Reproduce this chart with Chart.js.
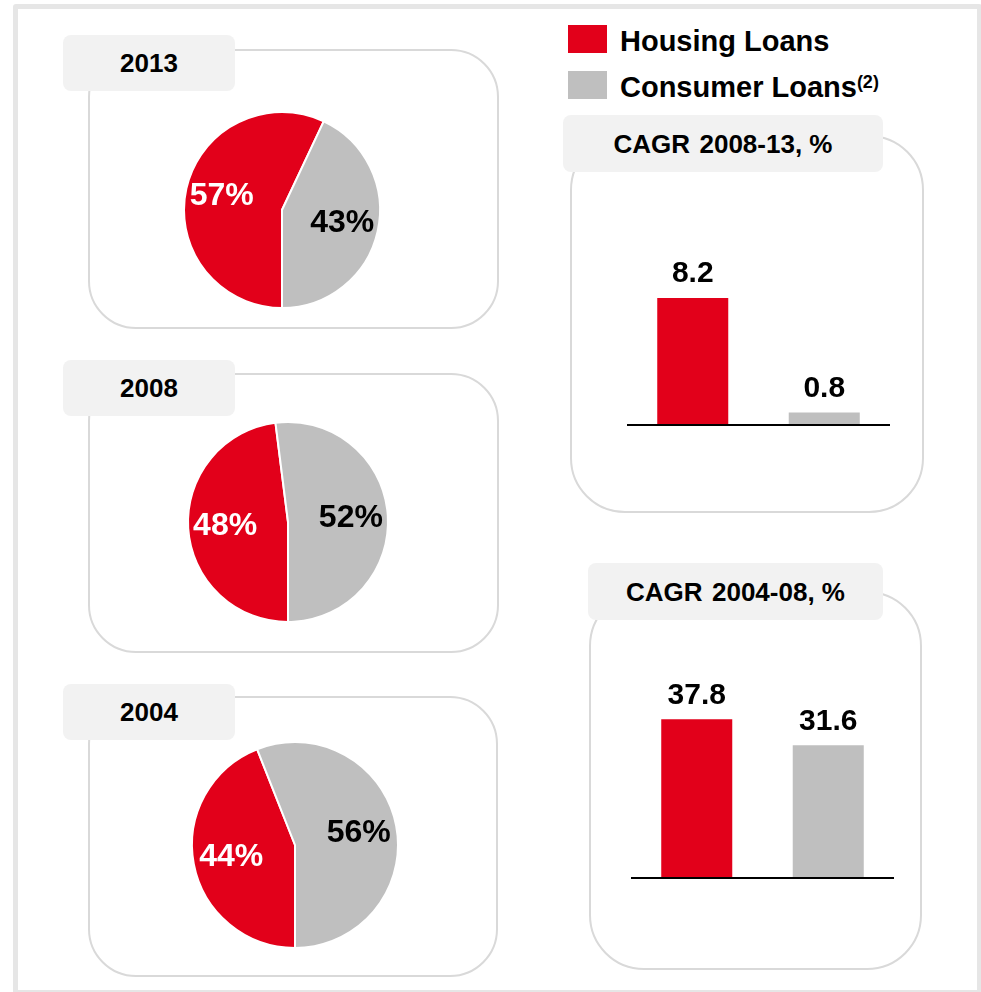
<!DOCTYPE html>
<html>
<head>
<meta charset="utf-8">
<script src="https://cdn.jsdelivr.net/npm/chart.js@4.4.1/dist/chart.umd.min.js"></script>
<style>
  body {
    margin: 0; width: 981px; height: 992px; position: relative; overflow: hidden;
    background: #fff; color: #000;
    font-family: "Liberation Sans", Arial, sans-serif; font-weight: bold;
  }
  .frame {
    position: absolute; left: 13px; top: 4px; width: 969px; height: 991px;
    border: 5px solid #e6e6e6; border-radius: 3px; box-sizing: border-box;
  }
  .box { position: absolute; border: 2px solid #d9d9d9; box-sizing: border-box; }
  .tab {
    position: absolute; background: #f2f2f2; border-radius: 8px;
    display: flex; align-items: center; justify-content: center;
    font-size: 26px; line-height: 1; white-space: pre;
  }
  .swatch { position: absolute; width: 39px; height: 28px; }
  .legend-text { position: absolute; font-size: 29px; line-height: 1; white-space: nowrap; }
  .legend-text sup { font-size: 18px; vertical-align: 9px; line-height: 0; }
  canvas { position: absolute; }
</style>
</head>
<body>
<div class="frame"></div>
<script>
// loan mix by year (% of retail loans)
const pieYears = ['2013', '2008', '2004'];
const housingShare = [57, 48, 44];
const consumerShare = [43, 52, 56];

// growth rates
const seriesNames = ['Housing Loans', 'Consumer Loans'];
const cagrTitles = ['CAGR \u200A2008-13, %', 'CAGR \u200A2004-08, %'];
const cagr2008to13 = [8.2, 0.8];
const cagr2004to08 = [37.8, 31.6];

const colors = ['#E2001A', '#BFBFBF'];
const FONT = '"Liberation Sans", Arial, sans-serif';

// panel geometry: [x1, y1, x2, y2]
const pieLayout = [
  { box: [89, 50, 498, 328], tab: [63, 35, 235, 91], cx: 282, cy: 210, r: 98 },
  { box: [89, 374, 498, 652], tab: [63, 360, 235, 416], cx: 288, cy: 522, r: 100 },
  { box: [89, 697, 497, 976], tab: [63, 684, 235, 740], cx: 295, cy: 845, r: 103 }
];
const barLayout = [
  { box: [571, 136, 923, 512], tab: [563, 115, 883, 172], canvas: [627, 240, 263, 190], pad: 30, max: 10 },
  { box: [590, 592, 921, 969], tab: [588, 563, 883, 620], canvas: [631, 660, 263, 223], pad: 29, max: 45 }
];

function addBox(r, radius) {
  const d = document.createElement('div');
  d.className = 'box';
  Object.assign(d.style, {
    left: (r[0] - 1) + 'px', top: (r[1] - 1) + 'px',
    width: (r[2] - r[0] + 2) + 'px', height: (r[3] - r[1] + 2) + 'px',
    borderRadius: radius + 'px'
  });
  document.body.appendChild(d);
}

function addTab(r, text) {
  const d = document.createElement('div');
  d.className = 'tab';
  d.textContent = text;
  Object.assign(d.style, {
    left: r[0] + 'px', top: r[1] + 'px',
    width: (r[2] - r[0]) + 'px', height: (r[3] - r[1]) + 'px'
  });
  document.body.appendChild(d);
}

function addCanvas(x, y, w, h) {
  const c = document.createElement('canvas');
  c.width = w; c.height = h;
  c.style.left = x + 'px'; c.style.top = y + 'px';
  document.body.appendChild(c);
  return c;
}

// legend
seriesNames.forEach((name, i) => {
  const sw = document.createElement('div');
  sw.className = 'swatch';
  sw.style.left = '568px';
  sw.style.top = (25 + i * 46) + 'px';
  sw.style.background = colors[i];
  document.body.appendChild(sw);

  const t = document.createElement('div');
  t.className = 'legend-text';
  t.style.left = '620px';
  t.style.top = (27 + i * 46) + 'px';
  t.innerHTML = name + (i === 1 ? '<sup>(2)</sup>' : '');
  document.body.appendChild(t);
});

// percentage labels inside the slices
const sliceLabels = {
  id: 'sliceLabels',
  afterDatasetsDraw(chart) {
    const ctx = chart.ctx;
    const values = chart.data.datasets[0].data;
    ctx.save();
    ctx.font = 'bold 32px ' + FONT;
    ctx.textAlign = 'center';
    ctx.textBaseline = 'middle';
    chart.getDatasetMeta(0).data.forEach((arc, i) => {
      const p = arc.getProps(['x', 'y', 'startAngle', 'endAngle', 'outerRadius'], true);
      const mid = (p.startAngle + p.endAngle) / 2;
      const d = p.outerRadius * 0.63;
      ctx.fillStyle = i === 0 ? '#fff' : '#000';
      ctx.fillText(values[i] + '%', p.x + Math.cos(mid) * d, p.y + Math.sin(mid) * d);
    });
    ctx.restore();
  }
};

// baseline + value above each bar
const barLabels = {
  id: 'barLabels',
  afterDatasetsDraw(chart) {
    const ctx = chart.ctx;
    const area = chart.chartArea;
    const y0 = chart.scales.y.getPixelForValue(0);
    const values = chart.data.datasets[0].data;
    ctx.save();
    ctx.strokeStyle = '#000';
    ctx.lineWidth = 2;
    ctx.beginPath();
    ctx.moveTo(area.left, y0);
    ctx.lineTo(area.right, y0);
    ctx.stroke();
    ctx.font = 'bold 30px ' + FONT;
    ctx.textAlign = 'center';
    ctx.textBaseline = 'middle';
    ctx.fillStyle = '#000';
    chart.getDatasetMeta(0).data.forEach((bar, i) => {
      ctx.fillText(values[i].toFixed(1), bar.x, bar.y - 24);
    });
    ctx.restore();
  }
};

pieLayout.forEach((L, i) => {
  addBox(L.box, 48);
  addTab(L.tab, pieYears[i]);
  const size = 240;
  const cv = addCanvas(L.cx - size / 2, L.cy - size / 2, size, size);
  new Chart(cv, {
    type: 'pie',
    data: {
      labels: seriesNames,
      datasets: [{
        data: [housingShare[i], consumerShare[i]],
        backgroundColor: colors,
        borderColor: '#fff',
        borderWidth: 2
      }]
    },
    options: {
      responsive: false,
      animation: false,
      rotation: 180,
      radius: L.r,
      layout: { padding: 0 },
      plugins: { legend: { display: false }, tooltip: { enabled: false } }
    },
    plugins: [sliceLabels]
  });
});

const cagrValues = [cagr2008to13, cagr2004to08];
barLayout.forEach((L, i) => {
  addBox(L.box, 55);
  addTab(L.tab, cagrTitles[i]);
  const [x, y, w, h] = L.canvas;
  const cv = addCanvas(x, y, w, h);
  new Chart(cv, {
    type: 'bar',
    data: {
      labels: seriesNames,
      datasets: [{
        data: cagrValues[i],
        backgroundColor: colors,
        barPercentage: 0.54,
        categoryPercentage: 1
      }]
    },
    options: {
      responsive: false,
      animation: false,
      layout: { padding: { top: L.pad, bottom: 5, left: 0, right: 0 } },
      scales: {
        x: { display: false },
        y: { display: false, min: 0, max: L.max }
      },
      plugins: { legend: { display: false }, tooltip: { enabled: false } }
    },
    plugins: [barLabels]
  });
});
</script>
</body>
</html>
